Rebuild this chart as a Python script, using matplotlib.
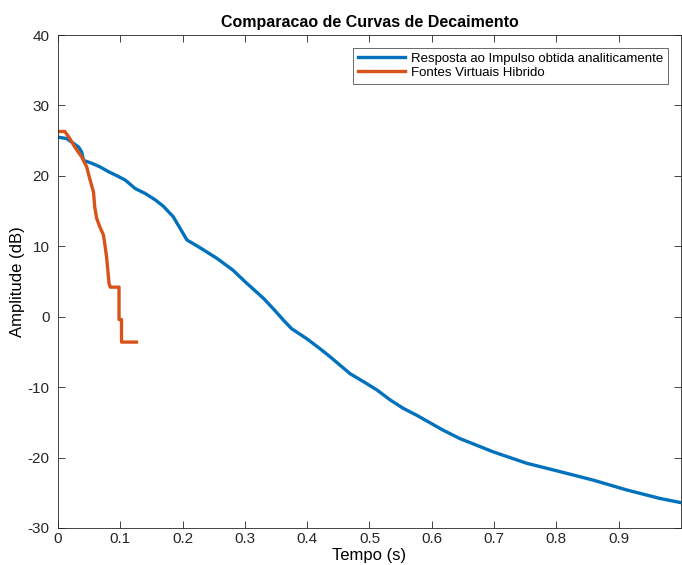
import matplotlib
matplotlib.use("Agg")
import matplotlib.pyplot as plt

plt.rcParams['font.family'] = ['Liberation Sans', 'DejaVu Sans']
plt.rcParams['axes.unicode_minus'] = False

# Blue: Resposta ao Impulso obtida analiticamente
t_blue = [0, 0.014, 0.025, 0.033, 0.038, 0.041, 0.054, 0.067, 0.081, 0.095, 0.108,
          0.124, 0.14, 0.156, 0.169, 0.185, 0.199, 0.207, 0.228, 0.255, 0.281, 0.3,
          0.33, 0.348, 0.362, 0.375, 0.399, 0.42, 0.437, 0.453, 0.469, 0.49, 0.512,
          0.533, 0.554, 0.576, 0.618, 0.645, 0.699, 0.752, 0.806, 0.859, 0.913,
          0.966, 1.0]
a_blue = [25.5, 25.3, 24.6, 24.1, 23.4, 22.2, 21.8, 21.3, 20.6, 20.0, 19.4,
          18.2, 17.5, 16.6, 15.7, 14.2, 12.1, 10.9, 9.8, 8.3, 6.6, 5.0,
          2.6, 0.9, -0.5, -1.7, -3.1, -4.5, -5.7, -6.9, -8.1, -9.2, -10.4,
          -11.8, -13.0, -14.0, -16.1, -17.3, -19.2, -20.8, -22.0, -23.2, -24.6,
          -25.8, -26.4]

# Orange: Fontes Virtuais Hibrido
t_orange = [0, 0.011, 0.019, 0.027, 0.038, 0.046, 0.051, 0.057, 0.059, 0.062, 0.067,
            0.073, 0.075, 0.078, 0.080, 0.082, 0.084, 0.098, 0.098, 0.102, 0.102, 0.126]
a_orange = [26.3, 26.3, 25.3, 24.1, 22.7, 21.3, 19.6, 17.7, 15.6, 14.0, 12.8,
            11.6, 10.4, 8.5, 6.6, 4.7, 4.2, 4.2, -0.4, -0.4, -3.6, -3.6]

labels = ['Resposta ao Impulso obtida analiticamente', 'Fontes Virtuais Hibrido']
title = 'Comparacao de Curvas de Decaimento'
xlabel = 'Tempo (s)'
ylabel = 'Amplitude (dB)'
xticks = [0, 0.1, 0.2, 0.3, 0.4, 0.5, 0.6, 0.7, 0.8, 0.9]
yticks = [-30, -20, -10, 0, 10, 20, 30, 40]

fig = plt.figure(figsize=(6.82, 5.65), dpi=100)
ax = fig.add_axes([0.085, 0.0655, 0.9135, 0.8725])

ax.plot(t_blue, a_blue, color='#0072BD', lw=2.4, label=labels[0])
ax.plot(t_orange, a_orange, color='#D95319', lw=2.4, label=labels[1])

ax.set_xlim(0, 1)
ax.set_ylim(-30, 40)
ax.set_xticks(xticks)
ax.set_xticklabels([('%g' % v) for v in xticks])
ax.set_yticks(yticks)

axcol = '#262626'
for s in ax.spines.values():
    s.set_color(axcol)
    s.set_linewidth(0.6)
ax.tick_params(direction='in', top=True, right=True, length=5, width=0.6,
               colors=axcol, labelsize=11)
ax.tick_params(axis='y', pad=6)
ax.tick_params(axis='x', pad=3)

ax.set_title(title, fontsize=11.5, fontweight='bold', pad=6)
ax.set_xlabel(xlabel, fontsize=12, labelpad=1)
ax.set_ylabel(ylabel, fontsize=12, labelpad=2)

leg = ax.legend(loc='upper right', fontsize=9.5, frameon=True, fancybox=False,
                edgecolor=axcol, handlelength=3.6, handletextpad=0.4,
                borderpad=0.4, labelspacing=0.1, bbox_to_anchor=(0.99, 0.988))
leg.get_frame().set_linewidth(0.6)

fig.savefig('out.png', dpi=100)
